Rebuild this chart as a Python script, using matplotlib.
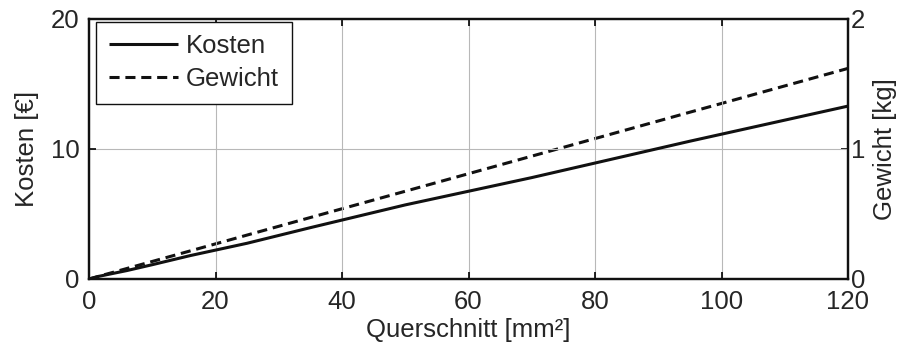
import matplotlib
matplotlib.use("Agg")
import matplotlib.pyplot as plt

plt.rcParams['font.family'] = ['Liberation Sans', 'DejaVu Sans']

querschnitt = [0, 1.5, 2.5, 4, 6, 10, 16, 25, 35, 50, 70, 95, 120]
kosten = [0, 0.2, 0.3, 0.45, 0.65, 1.1, 1.8, 2.75, 3.95, 5.7, 7.8, 10.6, 13.3]
gewicht = [0, 0.02, 0.034, 0.054, 0.081, 0.135, 0.216, 0.338, 0.473, 0.675, 0.945, 1.283, 1.62]

xticks = [0, 20, 40, 60, 80, 100, 120]
yticks_left = [0, 10, 20]
yticks_right = [0, 1, 2]

FS = 18.5
TXT = '#262626'
fig = plt.figure(figsize=(9.09, 3.56), dpi=100)
ax = fig.add_axes([89/909, 1-279/356, (848-89)/909, (279-19)/356])
ax2 = ax.twinx()

l1, = ax.plot(querschnitt, kosten, color='#111111', lw=2.2, solid_capstyle='butt')
l2, = ax2.plot(querschnitt, gewicht, color='#111111', lw=2.2, ls=(0, (3.3, 1.9)))

ax.set_xlim(0, 120)
ax.set_ylim(0, 20)
ax2.set_ylim(0, 2)
ax.set_xticks(xticks)
ax.set_yticks(yticks_left)
ax2.set_yticks(yticks_right)

ax.grid(True, color='#b8b8b8', lw=0.8)
ax.set_axisbelow(True)

for a in (ax, ax2):
    for s in a.spines.values():
        s.set_linewidth(1.6)
        s.set_color('#111111')

ax.tick_params(axis='x', direction='in', top=True, length=5, width=1.2, pad=8, labelsize=FS, labelcolor=TXT)
ax.tick_params(axis='y', direction='in', length=5, width=1.2, pad=7, labelsize=FS, labelcolor=TXT)
ax2.tick_params(axis='y', direction='in', length=5, width=1.2, pad=2, labelsize=FS, labelcolor=TXT)

ax.set_xlabel('Querschnitt [mm²]', fontsize=FS, color=TXT, labelpad=3)
ax.set_ylabel('Kosten [€]', fontsize=FS, color=TXT, labelpad=8)
ax2.set_ylabel('Gewicht [kg]', fontsize=FS, color=TXT, labelpad=6)

leg = ax.legend([l1, l2], ['Kosten', 'Gewicht'], loc='upper left', fontsize=FS,
                fancybox=False, framealpha=1, edgecolor='#111111', handlelength=2.7,
                handletextpad=0.3, borderpad=0.5, labelspacing=0.32,
                bbox_to_anchor=(0.009, 0.99), borderaxespad=0)
leg.get_frame().set_linewidth(1.0)
for t in leg.get_texts():
    t.set_color(TXT)
leg.set_zorder(10)
ax.set_zorder(ax2.get_zorder() + 1)
ax.patch.set_visible(False)

fig.savefig('out.png', dpi=100)
